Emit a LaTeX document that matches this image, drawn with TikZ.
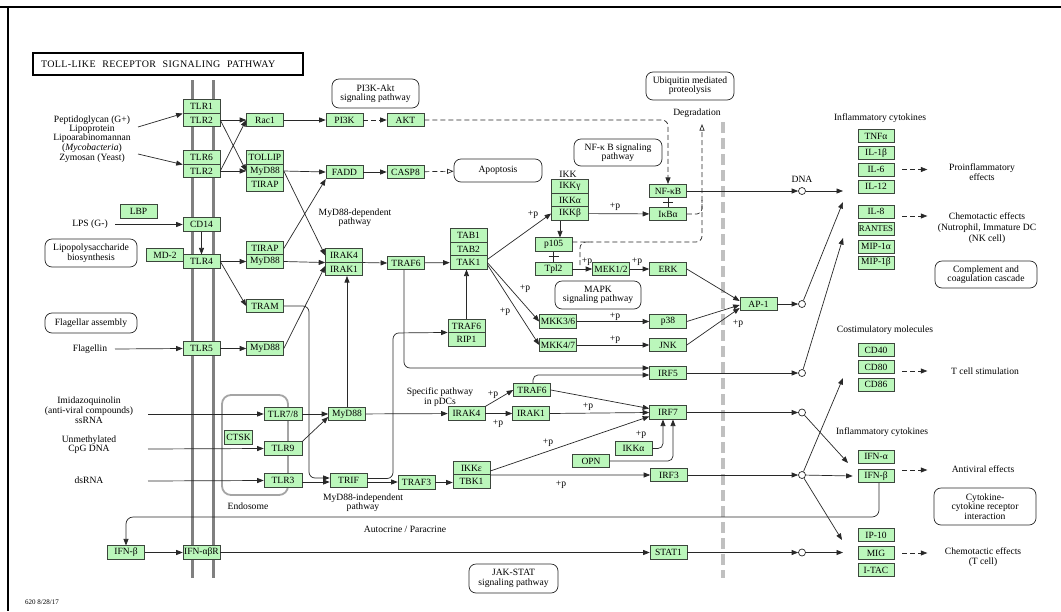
\documentclass[tikz,border=0pt]{standalone}
\usepackage{fontspec}
\setmainfont{Liberation Serif}
\usetikzlibrary{arrows.meta,calc}
\definecolor{genefill}{RGB}{187,247,187}
\definecolor{geneedge}{RGB}{60,70,60}
\definecolor{wirecol}{RGB}{40,40,40}
\definecolor{membr}{RGB}{128,128,128}
\definecolor{nucmem}{RGB}{192,192,192}
\definecolor{endo}{RGB}{165,165,165}
\newcommand\kgfont{\fontsize{9.5}{9.5}\selectfont}
\newcommand\kgsmall{\fontsize{9.6}{9.4}\selectfont}
\begin{document}
\begin{tikzpicture}[x=1pt,y=-1pt,
  gene/.style={draw=geneedge,fill=genefill,line width=0.6pt,minimum width=37pt,minimum height=13.5pt,inner sep=0pt,font=\kgfont},
  rgene/.style={gene,minimum width=36pt,minimum height=13pt},
  pway/.style={draw=wirecol,line width=0.7pt,rounded corners=7pt,align=center,inner sep=0pt,font=\kgsmall},
  lbl/.style={align=center,inner sep=0pt,font=\kgsmall},
  plusp/.style={inner sep=0pt,font=\kgsmall},
  wire/.style={draw=wirecol,line width=0.7pt},
  act/.style={wire,-{Triangle[length=6.5pt,width=5pt]}},
  dsh/.style={wire,dash pattern=on 5pt off 3pt},
  dact/.style={act,dash pattern=on 5pt off 3pt},
  dopen/.style={wire,dash pattern=on 5pt off 3pt,-{Triangle[open,length=6.5pt,width=5pt]}},
  nucl/.style={circle,draw=wirecol,fill=white,line width=0.7pt,minimum size=7pt,inner sep=0pt},
]
\useasboundingbox (0,0) rectangle (1061,611);
\fill[white] (0,0) rectangle (1061,611);
% frame
\draw[line width=2pt] (0,7) -- (1061,7);
\draw[line width=2pt] (8,7) -- (8,611);

% plasma membrane, nuclear envelope, endosome
\draw[membr,line width=3pt] (192,80) -- (192,578);
\draw[membr,line width=3pt] (213,80) -- (213,578);
\draw[nucmem,line width=4.5pt,dash pattern=on 11pt off 5pt] (723,122) -- (723,578);
\draw[endo,line width=1.8pt,rounded corners=9pt] (222,395) rectangle (288,495);

% title
\node[draw,line width=1.4pt,minimum width=270pt,minimum height=22pt,inner xsep=8pt,text width=254pt,align=left,font=\fontsize{10}{10}\selectfont\addfontfeatures{LetterSpace=4}] (title) at (168,64) {TOLL-LIKE\ \ RECEPTOR\ \ SIGNALING\ \ PATHWAY};

% pathway maps
\node[pway,minimum width=87pt,minimum height=29pt] (pi3kmap) at (375.5,93.5) {PI3K-Akt\\signaling pathway};
\node[pway,minimum width=88pt,minimum height=23pt] (apop) at (498,170.5) {Apoptosis};
\node[pway,minimum width=88pt,minimum height=28pt] (ubq) at (690,86) {Ubiquitin mediated\\proteolysis};
\node[pway,minimum width=88pt,minimum height=27pt] (nfkbmap) at (618,152.5) {NF-κ B signaling\\pathway};
\node[pway,minimum width=92pt,minimum height=28pt] (lpsmap) at (91,253) {Lipopolysaccharide\\biosynthesis};
\node[pway,minimum width=92pt,minimum height=20pt] (flagmap) at (91,323) {Flagellar assembly};
\node[pway,minimum width=86pt,minimum height=28pt] (mapk) at (598,295) {MAPK\\signaling pathway};
\node[pway,minimum width=89pt,minimum height=29pt] (jak) at (513.5,578.5) {JAK-STAT\\signaling pathway};
\node[pway,minimum width=102pt,minimum height=27pt] (compl) at (986,274.5) {Complement and\\coagulation cascade};
\node[pway,minimum width=102pt,minimum height=37pt] (cytok) at (985,506.5) {Cytokine-\\cytokine receptor\\interaction};

% receptors at the membrane
\node[gene] (TLRa) at (201.5,106.5) {TLR1};
\node[gene] (TLRb) at (201.5,120) {TLR2};
\node[gene] (TLR6) at (201.5,157.5) {TLR6};
\node[gene] (TLRc) at (201.5,171) {TLR2};
\node[gene] (LBP) at (138.5,211.5) {LBP};
\node[gene] (CD14) at (201.5,224.5) {CD14};
\node[gene] (MD2) at (165,255) {MD-2};
\node[gene] (TLR4) at (201.5,261.5) {TLR4};
\node[gene] (TLR5) at (201.5,348.5) {TLR5};
\node[gene] (IFNaR) at (201.5,552.5) {IFN-αβR};
\node[gene] (IFNb1) at (126,552.5) {IFN-β};

% adaptors
\node[gene] (Rac1) at (265,120) {Rac1};
\node[gene] (TOLLIP) at (265,157.5) {TOLLIP};
\node[gene] (MyD88a) at (265,171) {MyD88};
\node[gene] (TIRAPa) at (265,184.5) {TIRAP};
\node[gene] (TIRAPb) at (265,248.5) {TIRAP};
\node[gene] (MyD88b) at (265,261.5) {MyD88};
\node[gene] (TRAM) at (265,306) {TRAM};
\node[gene] (MyD88c) at (265,348.5) {MyD88};

% endosomal receptors
\node[gene,minimum width=28pt] (CTSK) at (238.5,437.5) {CTSK};
\node[gene,minimum width=38pt] (TLR78) at (283,414) {TLR7/8};
\node[gene,minimum width=38pt] (TLR9) at (283,448.5) {TLR9};
\node[gene,minimum width=38pt] (TLR3) at (283,480.5) {TLR3};
\node[gene] (MyD88d) at (347,414) {MyD88};
\node[gene] (TRIF) at (348.5,480.5) {TRIF};

% cytoplasmic cascade
\node[gene] (PI3K) at (344.5,120) {PI3K};
\node[gene] (AKT) at (405.5,120) {AKT};
\node[gene] (FADD) at (344.5,172) {FADD};
\node[gene] (CASP8) at (405.5,172) {CASP8};
\node[gene] (IRAK4) at (344,255.5) {IRAK4};
\node[gene] (IRAK1) at (344,269) {IRAK1};
\node[gene] (TRAF6) at (406,263) {TRAF6};
\node[gene] (TAB1) at (468.5,235.5) {TAB1};
\node[gene] (TAB2) at (468.5,249) {TAB2};
\node[gene] (TAK1) at (468.5,262.5) {TAK1};
\node[gene] (TRAF6b) at (466.5,326) {TRAF6};
\node[gene] (RIP1) at (466.5,339.5) {RIP1};
\node[gene] (IKKg) at (570,186.5) {IKKγ};
\node[gene] (IKKa) at (570,200) {IKKα};
\node[gene] (IKKb) at (570,213.5) {IKKβ};
\node[gene] (NFkB) at (668,191) {NF-κB};
\node[gene] (IkBa) at (668,214) {IκBα};
\node[gene] (p105) at (553.5,244.5) {p105};
\node[gene] (Tpl2) at (553.5,269) {Tpl2};
\node[gene] (MEK) at (611,269) {MEK1/2};
\node[gene] (ERK) at (668,269) {ERK};
\node[gene] (MKK36) at (558,321.5) {MKK3/6};
\node[gene] (MKK47) at (558,345) {MKK4/7};
\node[gene] (p38) at (668,321.5) {p38};
\node[gene] (JNK) at (668,345) {JNK};
\node[gene] (AP1) at (758.5,304) {AP-1};
\node[gene] (IRF5) at (668,373) {IRF5};
\node[gene] (TRAF6c) at (532,390) {TRAF6};
\node[gene] (IRAK4b) at (466.5,413.5) {IRAK4};
\node[gene] (IRAK1b) at (531,413.5) {IRAK1};
\node[gene] (IRF7) at (668,412.5) {IRF7};
\node[gene] (IKKab) at (633.5,448.5) {IKKα};
\node[gene] (OPN) at (591,461) {OPN};
\node[gene] (IRF3) at (669,475) {IRF3};
\node[gene] (IKKe) at (471.5,468) {IKKε};
\node[gene] (TBK1) at (471.5,481.5) {TBK1};
\node[gene] (TRAF3) at (416.5,482.5) {TRAF3};
\node[gene] (STAT1) at (668.5,552.5) {STAT1};

% transcription sites
\node[nucl] (c1) at (802,191) {};
\node[nucl] (c2) at (802,304) {};
\node[nucl] (c3) at (802,373) {};
\node[nucl] (c4) at (802,412.5) {};
\node[nucl] (c5) at (802,475) {};
\node[nucl] (c6) at (802,552.5) {};

% products
\node[rgene] (TNFa) at (876,136) {TNFα};
\node[rgene] (IL1b) at (876,153) {IL-1β};
\node[rgene] (IL6) at (876,169.5) {IL-6};
\node[rgene] (IL12) at (876,186.5) {IL-12};
\node[rgene] (IL8) at (876,211.5) {IL-8};
\node[rgene,font=\fontsize{8.8}{9}\selectfont] (RANTES) at (876,228.5) {RANTES};
\node[rgene] (MIP1a) at (876,246.5) {MIP-1α};
\node[rgene] (MIP1b) at (876,262.5) {MIP-1β};
\node[rgene] (CD40) at (876,350) {CD40};
\node[rgene] (CD80) at (876,367) {CD80};
\node[rgene] (CD86) at (876,384.5) {CD86};
\node[rgene] (IFNa) at (876,456.5) {IFN-α};
\node[rgene] (IFNb2) at (876,476) {IFN-β};
\node[rgene] (IP10) at (876,535) {IP-10};
\node[rgene] (MIG) at (876,553) {MIG};
\node[rgene] (ITAC) at (876,570) {I-TAC};

% labels
\node[lbl,font=\fontsize{9.6}{8.6}\selectfont] (pglbl) at (92,139) {Peptidoglycan (G+)\\Lipoprotein\\Lipoarabinomannan\\(\textit{Mycobacteria})\\Zymosan (Yeast)};
\node[lbl] (lpslbl) at (90,224.5) {LPS (G-)};
\node[lbl] (flglbl) at (90,349.5) {Flagellin};
\node[lbl,font=\fontsize{9.6}{10}\selectfont] (iqlbl) at (89,410.5) {Imidazoquinolin\\(anti-viral compounds)\\ssRNA};
\node[lbl,font=\fontsize{9.6}{9.5}\selectfont] (cpglbl) at (89,444.5) {Unmethylated\\CpG DNA};
\node[lbl] (dslbl) at (89,480) {dsRNA};
\node[lbl] (endolbl) at (248,506) {Endosome};
\node[lbl] (deplbl) at (355,217.5) {MyD88-dependent\\pathway};
\node[lbl] (indlbl) at (363,502.5) {MyD88-independent\\pathway};
\node[lbl] (pdclbl) at (440,397) {Specific pathway\\in pDCs};
\node[lbl] (autolbl) at (405,529) {Autocrine / Paracrine};
\node[lbl] (ikklbl) at (568,174) {IKK};
\node[lbl] (deglbl) at (697,113) {Degradation};
\node[lbl] (dnalbl) at (802,179) {DNA};
\node[lbl] (inflbl) at (880,118) {Inflammatory cytokines};
\node[lbl] (prolbl) at (982,172) {Proinflammatory\\effects};
\node[lbl,font=\fontsize{9.6}{11}\selectfont] (chemlbl) at (987,228) {Chemotactic effects\\(Nutrophil, Immature DC\\(NK cell)};
\node[lbl] (costlbl) at (885,330) {Costimulatory molecules};
\node[lbl] (tclbl) at (985,371) {T cell stimulation};
\node[lbl] (inf2lbl) at (882,432) {Inflammatory cytokines};
\node[lbl] (avlbl) at (983,469) {Antiviral effects};
\node[lbl] (chem2lbl) at (983,557) {Chemotactic effects\\(T cell)};
\node[lbl,anchor=west,font=\fontsize{7}{7}\selectfont] (datelbl) at (25,602) {620 8/28/17};

% phosphorylation marks
\node[plusp] at (533,215) {+p};
\node[plusp] at (615,207) {+p};
\node[plusp] at (587,262) {+p};
\node[plusp] at (637,262) {+p};
\node[plusp] at (525,289) {+p};
\node[plusp] at (505,312) {+p};
\node[plusp] at (615,317) {+p};
\node[plusp] at (615,340) {+p};
\node[plusp] at (738,324) {+p};
\node[plusp] at (493,395) {+p};
\node[plusp] at (498,424) {+p};
\node[plusp] at (588,407) {+p};
\node[plusp] at (548,443) {+p};
\node[plusp] at (641,435) {+p};
\node[plusp] at (561,485) {+p};

% ligand inputs
\coordinate (sPG) at (138,127);
\coordinate (sZY) at (138,154);
\coordinate (sLPS) at (115,224.5);
\coordinate (sFL) at (115,349);
\coordinate (sIQ) at (148,414);
\coordinate (sCpG) at (148,449);
\coordinate (sDS) at (148,481);
\draw[act] (sPG) -- (TLRa.south west);
\draw[act] (sZY) -- (TLR6.south west);
\draw[act] (sLPS) -- (CD14.west);
\draw[act] (sFL) -- (TLR5.west);
\draw[act] (sIQ) -- (TLR78.west);
\draw[act] (sCpG) -- (TLR9.west);
\draw[act] (sDS) -- (TLR3.west);

% TLR2 complexes
\draw[act] (TLRb) -- (Rac1);
\draw[act] (TLRb.east) -- (MyD88a.west);
\draw[act] (TLRc.east) -- (Rac1.west);
\draw[act] (TLRc) -- (MyD88a);
\draw[act] (Rac1) -- (PI3K);
\draw[dact] (PI3K) -- (AKT);
\draw[dact,rounded corners=6pt] (AKT.east) -| (NFkB.north);
\draw[act] (MyD88a.east) -- (FADD.west);
\draw[act] (FADD) -- (CASP8);
\draw[dopen] (CASP8) -- (apop);

% MyD88-dependent branch
\draw[act] (MyD88a.east) -- (IRAK4.west);
\draw[act] (TIRAPb.east) -- (FADD.south west);
\draw[act] (MyD88b.east) -- (IRAK4.south west);
\draw[act] (MyD88c.east) -- ($(IRAK1.west)+(0,-3)$);
\draw[act] (CD14) -- (TLR4);
\draw[act] (TLR4) -- (MyD88b);
\draw[act] (TLR4.east) -- (TRAM.west);
\draw[act] (TLR5) -- (MyD88c);
\draw[act] (IRAK4.south east) -- (TRAF6.west);
\draw[act] (TRAF6) -- (TAK1);
\draw[act] (TRAF6b.north) -- (TRAF6b.north |- TAK1.south);
\draw[act,rounded corners=6pt] ($(TRAF6.south)+(-2,0)$) |- ($(IRF5.west)+(0,-5)$);

% MyD88-independent branch
\draw[act,rounded corners=6pt] (TRAM.east) -- (309,306) -- (309,478) -- ($(TRIF.west)+(0,-2.5)$);
\draw[act] ($(TLR3.east)+(0,1.5)$) -- ($(TRIF.west)+(0,1.5)$);
\draw[act,rounded corners=6pt] ($(TRIF.east)+(0,-2)$) -| (393,333) -- (RIP1.north west);
\draw[act] ($(TRIF.east)+(0,1.5)$) -- ($(TRAF3.west)+(0,-0.5)$);
\draw[act] (TRAF3.east) -- (TBK1.west |- TRAF3.east);

% endosomal TLRs
\draw[act] (TLR78) -- (MyD88d);
\draw[act] (TLR9.north east) -- ($(MyD88d.west)+(0,3)$);
\draw[act] (MyD88d.north) -- (MyD88d.north |- IRAK1.south);
\draw[act] (MyD88d) -- (IRAK4b);
\draw[act] (IRAK4b) -- (IRAK1b);
\draw[act] (IRAK4b.north east) -- (TRAF6c.west);
\draw[act] (IRAK1b.east) -- (IRF7.west);
\draw[act] (TRAF6c.east) -- ($(IRF7.west)+(0,-4)$);
\draw[act] ($(IKKe.east)+(0,3)$) -- ($(IRF7.west)+(0,4)$);
\draw[act] (IKKe.south east) -- (IRF3.west);
\draw[act,rounded corners=5pt] (IKKab.east) -| ($(IRF7.south)+(-5,0)$);
\draw[act,rounded corners=5pt] (OPN.east) -| ($(IRF7.south)+(5,0)$);
\draw[act,rounded corners=5pt] ($(TRAF6c.north)+(1,0)$) |- ($(IRF5.west)+(0,2)$);

% TAK1 and IKK
\draw[act] ($(TAK1.east)+(0,-3)$) -- (IKKb.west);
\draw[act] (TAK1.east) -- (MKK36.west);
\draw[act] ($(TAK1.east)+(0,2)$) -- (MKK47.west);
\draw[act] (IKKb) -- (IkBa);
\draw[act] ($(IKKb.south)+(-10,0)$) -- ($(p105.north)+(6.5,0)$);
\draw[wire] (NFkB.south) -- (IkBa.north);
\draw[wire] ($($(NFkB.south)!0.5!(IkBa.north)$)+(-5,0)$) -- ++(10,0);
\draw[wire] (p105.south) -- (Tpl2.north);
\draw[wire] ($($(p105.south)!0.5!(Tpl2.north)$)+(-5,0)$) -- ++(10,0);

% MAPK
\draw[act] (Tpl2) -- (MEK);
\draw[act] (MEK) -- (ERK);
\draw[act] (MKK36) -- (p38);
\draw[act] (MKK47) -- (JNK);
\draw[act] (ERK.east) -- ($(AP1.west)+(0,-3)$);
\draw[act] (p38.east) -- ($(AP1.west)+(0,1)$);
\draw[act] (JNK.east) -- ($(AP1.west)+(0,4)$);

% degradation
\coordinate (deg) at (702,124);
\draw[dopen,rounded corners=6pt] ($(p105.east)+(0,-2.5)$) -- (702,242) -- (deg);
\draw[dsh,rounded corners=6pt] (580,265) |- (592,242);
\draw[dsh,rounded corners=5pt] (IkBa.east) -| (702,200);

% transcription
\draw[act] (NFkB) -- (c1);
\draw[act] (AP1) -- (c2);
\draw[act] (IRF5) -- (c3);
\draw[act] (IRF7) -- (c4);
\draw[act] (IRF3) -- (c5);
\draw[act] (STAT1) -- (c6);
\coordinate (t1) at (843,191);
\coordinate (t2) at (843,202);
\coordinate (t3) at (843,238);
\coordinate (t4) at (843,378);
\coordinate (t5) at (848,463);
\coordinate (t6) at (842,540);
\coordinate (t7) at (843,552.5);
\draw[act] (c1) -- (t1);
\draw[act] (c2) -- (t2);
\draw[act] (c3) -- (t3);
\draw[act] (c5) -- (t4);
\draw[act] (c4) -- (t5);
\draw[act] (c5) -- ($(IFNb2.west)+(-5,0)$);
\draw[act] (c5) -- (t6);
\draw[act] (c6) -- (t7);

% effects
\draw[dact] ($(IL6.east)+(8,0)$) -- ++(25,0);
\draw[dact] ($(IL8.east)+(8,4.5)$) -- ++(25,0);
\draw[dact] ($(CD80.east)+(8,4)$) -- ++(25,0);
\draw[dact] ($(IFNb2.east)+(8,-6)$) -- ++(25,0);
\draw[dact] ($(MIG.east)+(8,0)$) -- ++(25,0);

% interferon feedback
\coordinate (fb) at (126,517);
\draw[act,rounded corners=7pt] ($(IFNb2.south)+(3,0)$) |- (fb) -- (IFNb1.north);
\draw[act] (IFNb1) -- (IFNaR);
\draw[act] (IFNaR) -- (STAT1);
\end{tikzpicture}
\end{document}
